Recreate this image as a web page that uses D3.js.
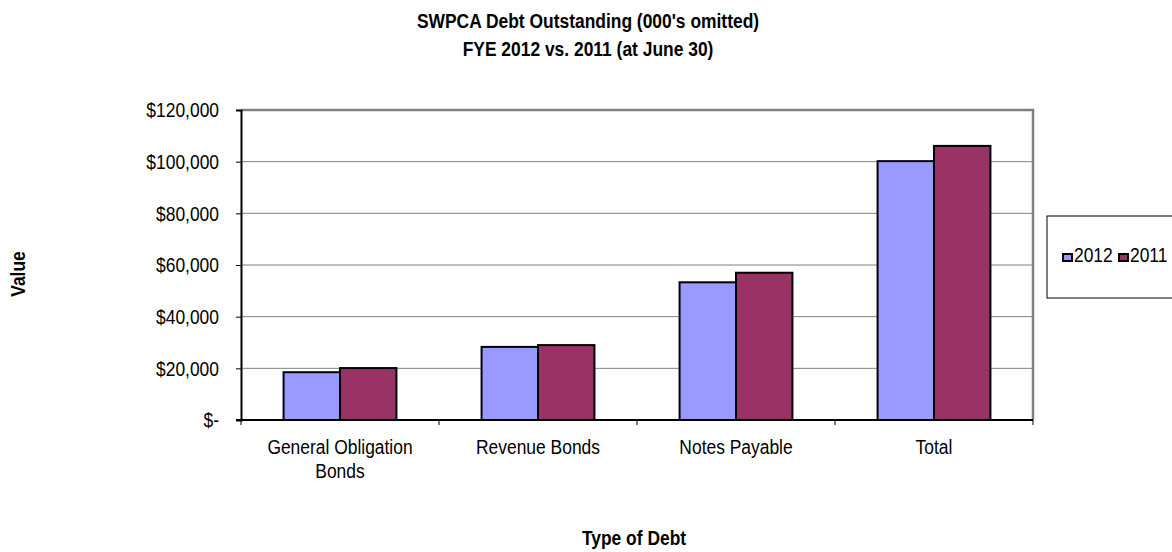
<!DOCTYPE html>
<html>
<head>
<meta charset="utf-8">
<script src="https://cdn.jsdelivr.net/npm/d3@7"></script>
<style>
  body { margin: 0; background: #fff; }
  text { font-family: "Liberation Sans", Arial, sans-serif; }
</style>
</head>
<body>
<div id="chart"></div>
<script>
const categories = [['General Obligation', 'Bonds'], ['Revenue Bonds'], ['Notes Payable'], ['Total']]
const seriesNames = ['2012', '2011']
const values2012 = [18500, 28300, 53300, 100200]
const values2011 = [20100, 29000, 57000, 106100]
const yTicks = [0, 20000, 40000, 60000, 80000, 100000, 120000]
const colors = ['#9999FF', '#993366']

const chartWidth = 1172
const chartHeight = 552
const plot = { left: 241, right: 1033, top: 110, bottom: 420 }
const fontSize = 21
// the source font is a narrow face, squeeze the regular one to match
const narrow = 0.83

const svg = d3.select('#chart')
  .append('svg')
    .attr('width', chartWidth)
    .attr('height', chartHeight)

function label(parent, x, y, str, { anchor = 'middle', bold = false, size = fontSize, rotate = 0 } = {}) {
  return parent.append('text')
    .attr('transform', `translate(${x},${y}) rotate(${rotate}) scale(${narrow},1)`)
    .attr('text-anchor', anchor)
    .attr('font-size', size)
    .attr('font-weight', bold ? 'bold' : null)
    .text(str)
}

// title
label(svg, 588, 28, "SWPCA Debt Outstanding (000's omitted)", { bold: true })
label(svg, 588, 56, 'FYE 2012 vs. 2011 (at June 30)', { bold: true })

const x = d3.scaleBand()
  .domain(categories.map((d, i) => i))
  .range([plot.left, plot.right])

const y = d3.scaleLinear()
  .domain([0, 120000])
  .range([plot.bottom, plot.top])

const barWidth = x.bandwidth() * 0.285

// gridlines
svg.append('g')
  .selectAll('line')
  .data(yTicks.slice(1))
  .enter()
  .append('line')
    .attr('x1', plot.left).attr('x2', plot.right)
    .attr('y1', d => y(d)).attr('y2', d => y(d))
    .attr('stroke', '#808080')
    .attr('stroke-width', 1)

// plot border top and right
svg.append('path')
  .attr('d', `M${plot.left},${plot.top}H${plot.right}V${plot.bottom}`)
  .attr('fill', 'none')
  .attr('stroke', '#808080')
  .attr('stroke-width', 2.5)

// bars
const series = [values2012, values2011]
series.forEach((vals, s) => {
  svg.append('g')
    .selectAll('rect')
    .data(vals)
    .enter()
    .append('rect')
      .attr('x', (d, i) => x(i) + x.bandwidth() / 2 - barWidth + s * barWidth)
      .attr('y', d => y(d))
      .attr('width', barWidth)
      .attr('height', d => y(0) - y(d))
      .attr('fill', colors[s])
      .attr('stroke', '#000')
      .attr('stroke-width', 2)
})

// y axis
const yAxis = svg.append('g')
  .attr('transform', `translate(${plot.left},0)`)
  .call(d3.axisLeft(y)
    .tickValues(yTicks)
    .tickSize(5)
    .tickPadding(17)
    .tickFormat(d => d === 0 ? '$-' : '$' + d3.format(',')(d)))
yAxis.select('.domain').attr('stroke', '#000').attr('stroke-width', 2)
yAxis.selectAll('.tick line').attr('stroke', '#000')
yAxis.selectAll('text')
  .attr('font-size', fontSize)
  .attr('font-family', null)
  .attr('fill', '#000')
  .attr('x', 0)
  .attr('transform', `translate(-22,0) scale(${narrow},1)`)

// x axis
const xAxis = svg.append('g')
  .attr('transform', `translate(0,${plot.bottom})`)
xAxis.append('line')
  .attr('x1', plot.left - 5).attr('x2', plot.right)
  .attr('y1', 0).attr('y2', 0)
  .attr('stroke', '#000').attr('stroke-width', 2)
xAxis.selectAll('line.tick')
  .data(d3.range(categories.length + 1))
  .enter()
  .append('line')
    .attr('class', 'tick')
    .attr('x1', i => i < categories.length ? x(i) : plot.right)
    .attr('x2', i => i < categories.length ? x(i) : plot.right)
    .attr('y1', 0).attr('y2', 5)
    .attr('stroke', '#000')
categories.forEach((lines, i) => {
  lines.forEach((t, k) => {
    label(xAxis, x(i) + x.bandwidth() / 2, 34 + k * 24, t)
  })
})

// axis titles
label(svg, 25, 274, 'Value', { bold: true, rotate: -90 })
label(svg, 634, 545, 'Type of Debt', { bold: true })

// legend
const legend = svg.append('g')
legend.append('rect')
  .attr('x', 1047).attr('y', 216)
  .attr('width', 140).attr('height', 82)
  .attr('fill', '#fff')
  .attr('stroke', '#000').attr('stroke-width', 1)
seriesNames.forEach((name, s) => {
  legend.append('rect')
    .attr('x', 1063 + s * 56).attr('y', 254)
    .attr('width', 9).attr('height', 7)
    .attr('fill', colors[s])
    .attr('stroke', '#000').attr('stroke-width', 2)
  label(legend, 1074 + s * 56, 262, name, { anchor: 'start' })
})
</script>
</body>
</html>
